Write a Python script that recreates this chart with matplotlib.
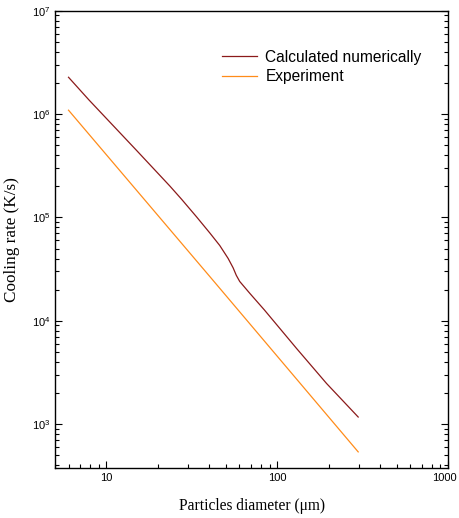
import matplotlib
matplotlib.use("Agg")
import matplotlib.pyplot as plt
import matplotlib.transforms as mtransforms
from matplotlib.ticker import LogLocator, LogFormatterSciNotation, FixedLocator, FixedFormatter, NullFormatter

plt.rcParams['mathtext.fontset'] = 'custom'
plt.rcParams['mathtext.rm'] = 'Liberation Sans'
plt.rcParams['mathtext.it'] = 'Liberation Sans:italic'
plt.rcParams['mathtext.bf'] = 'Liberation Sans:bold'

# Data
calc_d = [6.0, 7.9, 15.0, 23.5, 27.5, 33.7, 40.3, 46.0, 51.5, 55.1, 57.5, 60.2, 69.0, 84.0, 130, 194, 297]
calc_rate = [2.27e6, 1.37e6, 4.45e5, 2.01e5, 1.50e5, 1.01e5, 7.05e4, 5.35e4, 4.01e4, 3.25e4,
             2.75e4, 2.40e4, 1.84e4, 1.27e4, 5.35e3, 2.47e3, 1.17e3]
exp_d = [6.0, 40.3, 297]
exp_rate = [1.09e6, 2.67e4, 5.38e2]

labels = ["Calculated numerically", "Experiment"]
xtick_vals = [10, 100, 1000]
xtick_labels = ["10", "100", "1000"]

fig = plt.figure(figsize=(4.59, 5.18), dpi=100)
ax = fig.add_axes([0.1198, 0.0959, 0.8569, 0.8834])

ax.plot(calc_d, calc_rate, color="#8B1A1A", lw=0.9, label=labels[0])
ax.plot(exp_d, exp_rate, color="#FF8C1A", lw=0.9, label=labels[1])

ax.set_xscale("log")
ax.set_yscale("log")
ax.set_xlim(5, 1000)
ax.set_ylim(373, 1e7)

ax.xaxis.set_major_locator(FixedLocator(xtick_vals))
ax.xaxis.set_major_formatter(FixedFormatter(xtick_labels))
ax.xaxis.set_minor_locator(LogLocator(base=10, subs=range(2, 10), numticks=20))
ax.xaxis.set_minor_formatter(NullFormatter())
ax.yaxis.set_major_locator(LogLocator(base=10, numticks=20))
ax.yaxis.set_major_formatter(LogFormatterSciNotation())
ax.yaxis.set_minor_locator(LogLocator(base=10, subs=range(2, 10), numticks=20))
ax.yaxis.set_minor_formatter(NullFormatter())

ax.tick_params(which="both", direction="in", top=False, right=True, width=0.8, labelsize=8)
ax.tick_params(which="major", length=5)
ax.tick_params(which="minor", length=3)
for lab in ax.get_xticklabels() + ax.get_yticklabels():
    lab.set_fontfamily("Liberation Sans")
for s in ax.spines.values():
    s.set_linewidth(1.0)

# keep the last x tick label inside the figure
last = ax.get_xticklabels()[-1]
last.set_transform(last.get_transform() + mtransforms.ScaledTranslation(-3 / 72, 0, fig.dpi_scale_trans))

ax.set_xlabel("Particles diameter (\u03bcm)", family="Liberation Serif", fontsize=11.2, labelpad=11)
ax.set_ylabel("Cooling rate (K/s)", family="Liberation Serif", fontsize=12.3, labelpad=8)

leg = ax.legend(loc="upper left", bbox_to_anchor=(0.424, 0.915), frameon=False,
                borderpad=0, borderaxespad=0, handlelength=2.25, handletextpad=0.55,
                labelspacing=0.3, prop={"family": "Liberation Sans", "size": 11.2})

fig.savefig("out.png", dpi=100)
